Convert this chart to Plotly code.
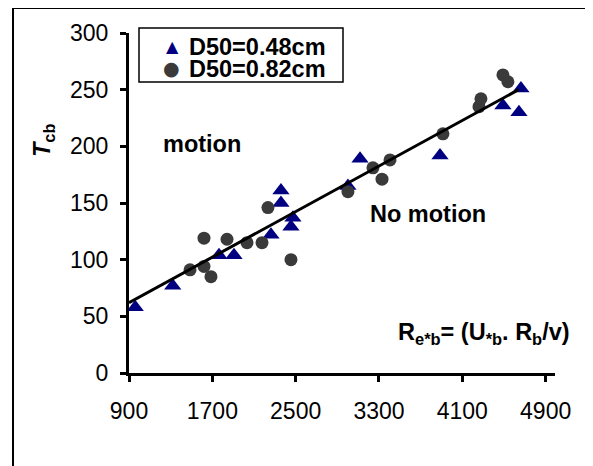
import plotly.graph_objects as go

# D50 = 0.48 cm (triangles)
x_048 = [960, 1320, 1764, 1908, 2263, 2359, 2359, 2474, 2455, 3002, 3118, 3886, 4490, 4644, 4663]
y_048 = [58, 77, 104, 104, 122, 150, 161, 137, 129, 165, 189, 192, 236, 230, 251]

# D50 = 0.82 cm (circles)
x_082 = [1486, 1620, 1620, 1687, 1841, 2033, 2177, 2234, 2455, 3002, 3242, 3329, 3406, 3914, 4260, 4279, 4490, 4538]
y_082 = [91, 119, 94, 85, 118, 115, 115, 146, 100, 160, 181, 171, 188, 211, 235, 242, 263, 257]

# trend line endpoints
x_fit = [900, 4640]
y_fit = [62, 250]

x_ticks = [900, 1700, 2500, 3300, 4100, 4900]
y_ticks = [0, 50, 100, 150, 200, 250, 300]

series_names = ["D50=0.48cm", "D50=0.82cm"]
series_colors = ["#000080", "#3a3a3a"]

FONT = "Liberation Sans, Arial, sans-serif"

# page is drawn with an 8px body margin: work in page pixels, convert to paper
OFF = 8
PL, PR, PT, PB = 129, 555, 33, 373   # plot area in page pixels
W, H = 593 - OFF, 466 - OFF


def px(x):
    return (x - PL) / (PR - PL)


def py(y):
    return (PB - y) / (PB - PT)


fig = go.Figure()
fig.add_trace(go.Scatter(x=x_048, y=y_048, mode="markers", name=series_names[0], showlegend=False,
                         marker=dict(symbol="triangle-up", size=15, color=series_colors[0])))
fig.add_trace(go.Scatter(x=x_082, y=y_082, mode="markers", name=series_names[1], showlegend=False,
                         marker=dict(symbol="circle", size=13, color=series_colors[1])))
fig.add_trace(go.Scatter(x=x_fit, y=y_fit, mode="lines", showlegend=False,
                         line=dict(color="black", width=3)))

ann = [
    dict(text="<b>motion</b>", x=px(202), y=py(144)),
    dict(text="<b>No motion</b>", x=px(428), y=py(214)),
    dict(text="<b>R<sub>e*b</sub>= (U<sub>*b</sub>. R<sub>b</sub>/v)</b>", x=px(484), y=py(333)),
    dict(text="<b><i>T</i><sub>cb</sub></b>", x=px(43), y=py(140), textangle=-90),
    # legend
    dict(text="<b>" + series_names[0] + "</b>", x=px(187), y=py(47), xanchor="left"),
    dict(text="<b>" + series_names[1] + "</b>", x=px(187), y=py(69), xanchor="left"),
    dict(text="▲", x=px(172), y=py(47), font=dict(family="DejaVu Sans", size=16, color=series_colors[0])),
    dict(text="●", x=px(171), y=py(68), font=dict(family="DejaVu Sans", size=19, color=series_colors[1])),
]
for a in ann:
    a.setdefault("xanchor", "center")
    a.setdefault("yanchor", "middle")
    a.setdefault("font", dict(size=23.5, family=FONT, color="black"))
    a.update(xref="paper", yref="paper", showarrow=False)

fig.update_layout(
    width=W, height=H,
    margin=dict(l=PL - OFF, r=W - (PR - OFF), t=PT - OFF, b=H - (PB - OFF), pad=0),
    paper_bgcolor="white", plot_bgcolor="white",
    font=dict(family=FONT, size=23, color="black"),
    showlegend=False,
    xaxis=dict(range=[900, 4990], tickvals=x_ticks, ticktext=[str(v) for v in x_ticks],
               showgrid=False, zeroline=False, showline=True, linecolor="black", linewidth=3,
               ticks="outside", ticklen=6, tickwidth=2.5, tickcolor="black",
               tickfont=dict(size=23), ticklabelstandoff=9),
    yaxis=dict(range=[0, 300], tickvals=y_ticks, ticktext=[str(v) for v in y_ticks],
               showgrid=False, zeroline=False, showline=True, linecolor="black", linewidth=3,
               ticks="outside", ticklen=6, tickwidth=2.5, tickcolor="black",
               tickfont=dict(size=23), ticklabelstandoff=7),
    shapes=[
        dict(type="rect", xref="paper", yref="paper",
             x0=px(13), x1=px(591), y0=py(480), y1=py(8),
             line=dict(color="black", width=2)),
        dict(type="rect", xref="paper", yref="paper",
             x0=px(139), x1=px(343), y0=py(82), y1=py(28),
             line=dict(color="black", width=1.5), fillcolor="white", layer="below"),
    ],
    annotations=ann,
)

fig.write_html("out.html")
